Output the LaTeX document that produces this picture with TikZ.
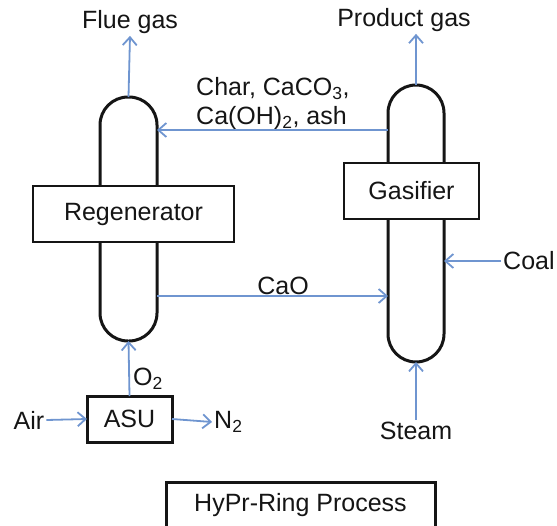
\documentclass[tikz,border=0pt]{standalone}
\usepackage{fontspec}
\setmainfont{Liberation Sans}
\usetikzlibrary{arrows.meta}
\definecolor{hpink}{HTML}{151515}
\definecolor{hpblue}{HTML}{6F95D0}
\tikzset{
  hp text/.style={font=\fontsize{25}{29}\selectfont, text=hpink},
  hp vessel/.style={draw=hpink, line width=3pt, rounded corners=28pt,
    inner sep=0pt, outer sep=0pt},
  hp box/.style={draw=hpink, line width=1.5pt, fill=white,
    inner sep=0pt, outer sep=0pt},
  hp thick box/.style={hp box, line width=3pt},
  hp flow/.style={-{Straight Barb[length=8pt,width=14pt]}, line width=1.8pt,
    draw=hpblue},
  hp label/.style={inner sep=2pt}
}

\begin{document}
\begin{tikzpicture}[hp text, x=1pt, y=-1pt]
  \useasboundingbox (0,0) rectangle (557,525);
  % vessels
  \node[hp vessel, minimum width=57, minimum height=244] (regen) at (128.5,219) {};
  \node[hp vessel, minimum width=56, minimum height=277] (gas) at (416,223.5) {};
  \node[hp box, minimum width=201, minimum height=56] (regenbox) at (133.5,214) {Regenerator};
  \node[hp box, minimum width=135, minimum height=56] (gasbox) at (411.5,191) {Gasifier};
  \node[hp thick box, minimum width=85, minimum height=46] (asu) at (129.5,419) {ASU};
  \node[hp thick box, minimum width=269, minimum height=46] (title) at (300.5,505) {HyPr-Ring Process};
  % stream labels
  \node[hp label] (flue) at (130,22) {Flue gas};
  \node[hp label] (prod) at (404,20) {Product gas};
  \node[hp label, anchor=west, align=left] (char) at (194,104)
    {Char, CaCO\textsubscript{3},\\Ca(OH)\textsubscript{2}, ash};
  \node[hp label, anchor=south] (cao) at (283,297) {CaO};
  \node[hp label, anchor=west] (coal) at (501,261) {Coal};
  \node[hp label] (steam) at (416,431) {Steam};
  \node[hp label, anchor=west] (otwo) at (131,379) {O\textsubscript{2}};
  \node[hp label] (air) at (29,420) {Air};
  \node[hp label, anchor=west] (ntwo) at (212,422) {N\textsubscript{2}};
  % streams
  \draw[hp flow] (regen.north) -- (flue.south);
  \draw[hp flow] (gas.north) -- (gas.north |- prod.south);
  \draw[hp flow] (gas.west |- 0,130) -- (regen.east |- 0,130);
  \draw[hp flow] (regen.east |- 0,296) -- (gas.west |- 0,296);
  \draw[hp flow] (coal.west) -- (gas.east |- coal.west);
  \draw[hp flow] (steam.north) -- (gas.south);
  \draw[hp flow] (asu.north) -- (regen.south);
  \draw[hp flow] (air.east) -- (asu.west);
  \draw[hp flow] (asu.east) -- (ntwo.west);
\end{tikzpicture}
\end{document}
